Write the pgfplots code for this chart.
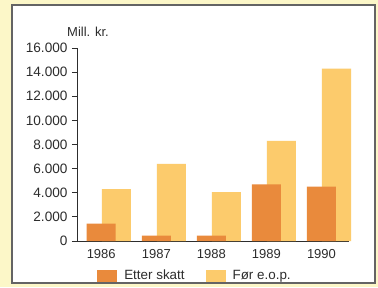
\documentclass[border=0pt]{standalone}
\usepackage{pgfplots}
\pgfplotsset{compat=1.18}
\usepackage{fontspec}
\setmainfont{Liberation Sans}
\definecolor{bgyellow}{RGB}{252,247,200}
\definecolor{etter}{RGB}{233,138,60}
\definecolor{forc}{RGB}{252,203,108}
\definecolor{txt}{RGB}{45,45,45}
\definecolor{frame}{RGB}{100,100,100}
\begin{document}
\fontsize{13pt}{15pt}\selectfont
\begin{tikzpicture}
\useasboundingbox (0pt,0pt) rectangle (378pt,287pt);
\fill[bgyellow] (0pt,0pt) rectangle (378pt,287pt);
\fill[white] (12pt,4pt) rectangle (375pt,282pt);
\draw[frame, line width=1.3pt] (12pt,4pt) rectangle (375pt,282pt);
\node[txt, font=\fontsize{13pt}{15pt}\selectfont] at (88pt,255pt) {Mill. kr.};
\begin{axis}[
  at={(77pt,46pt)}, anchor=south west,
  scale only axis, width=272pt, height=193pt,
  xmin=-0.44, xmax=4.5, ymin=0, ymax=16000,
  clip=false,
  axis lines*=left,
  axis line style={txt, line width=0.9pt},
  every tick/.style={txt, line width=0.9pt},
  ytick={0,2000,...,16000},
  tick align=outside,
  major tick length=5pt,
  xtick={0,1,2,3,4},
  xticklabels={1986,1987,1988,1989,1990},
  xtick style={draw=none},
  scaled y ticks=false,
  /pgf/number format/.cd, 1000 sep={.}, assume math mode=true,
  /pgfplots/.cd,
  xticklabel style={txt, font=\fontsize{13pt}{15pt}\selectfont, yshift=1pt},
  yticklabel style={txt, font=\fontsize{13.6pt}{15pt}\selectfont},
  legend style={at={(118pt,-35pt)}, anchor=center, draw=none, fill=none,
    legend columns=2, font=\fontsize{13.4pt}{15pt}\selectfont, text=txt,
    /tikz/every even column/.append style={column sep=19pt},
    /tikz/inner sep=0pt},
  legend cell align=left,
  legend image code/.code={\fill[#1,draw=none] (0pt,-6pt) rectangle (20pt,6pt); \path (25pt,0pt);},
]
\addlegendimage{fill=etter,draw=none}
\addlegendentry{Etter skatt}
\addlegendimage{fill=forc,draw=none}
\addlegendentry{Før e.o.p.}
\addplot[ybar, bar width=0.527, bar shift=0pt, fill=forc, draw=none, forget plot]
  coordinates {(0.273,4300) (1.273,6400) (2.273,4050) (3.273,8300) (4.273,14300)};
\addplot[ybar, bar width=0.527, bar shift=0pt, fill=etter, draw=none, forget plot]
  coordinates {(0,1450) (1,450) (2,450) (3,4700) (4,4500)};
\end{axis}
\end{tikzpicture}
\end{document}
